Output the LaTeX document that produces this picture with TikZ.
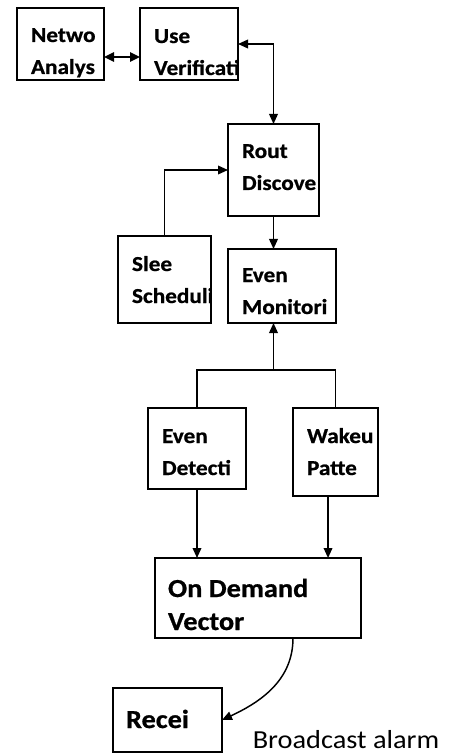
\documentclass[tikz,border=0pt]{standalone}
\usepackage{fontspec}
\setmainfont{Carlito}[FakeStretch=1.09, BoldFeatures={FakeBold=0.8}]
\usetikzlibrary{arrows.meta}
\tikzset{
  blk/.style 2 args={draw, line width=1.5pt, inner sep=0pt, outer sep=0pt,
    minimum width=#1*0.75pt, minimum height=#2*0.75pt},
  % #1 = drop of the last baseline below the top edge (px)
  txt/.style 2 args={path picture={\node[draw=none, minimum width=0pt, minimum height=0pt,
      anchor=base west, inner sep=0pt, align=left,
      font=\bfseries\fontsize{16}{24}\selectfont]
      at ([xshift=10.5pt,yshift=-#1*0.75pt]path picture bounding box.north west) {#2};}},
  bigtxt/.style 2 args={path picture={\node[draw=none, minimum width=0pt, minimum height=0pt,
      anchor=base west, inner sep=0pt, align=left,
      font=\bfseries\fontsize{19.5}{24.75}\selectfont]
      at ([xshift=9.75pt,yshift=-#1*0.75pt]path picture bounding box.north west) {#2};}},
  tip/.style={line width=1.1pt, -{Triangle[length=7.5pt,width=6.5pt]}},
}
\begin{document}
\begin{tikzpicture}[x=0.75pt,y=-0.75pt]
  \useasboundingbox (0,0) rectangle (454,755);
  % blocks
  \node[blk={87}{72}, txt={66}{Netwo\\Analys}] (net) at (60.5,44) {};
  \node[blk={98}{72}, txt={67}{Use\\Verificati}] (usr) at (189,44) {};
  \node[blk={91}{92}, txt={66}{Rout\\Discove}] (rout) at (273.5,170) {};
  \node[blk={93}{87}, txt={67}{Slee\\Scheduli}] (slee) at (164.5,279.5) {};
  \node[blk={108}{74}, txt={65}{Even\\Monitori}] (mon) at (282,286) {};
  \node[blk={98}{81}, txt={67}{Even\\Detecti}] (det) at (197,448.5) {};
  \node[blk={85}{88}, txt={67}{Wakeu\\Patte}] (wak) at (335.5,452) {};
  \node[blk={206}{80}, bigtxt={72}{On Demand\\Vector}] (odv) at (258,598) {};
  \node[blk={109}{64}, bigtxt={40}{Recei}] (rec) at (167.5,720) {};
  \node[font=\fontsize{19.5}{22}\selectfont, inner sep=0pt] (bca) at (346,740) {Broadcast alarm};
  % connectors
  \draw[line width=1.6pt, {Triangle[length=7.5pt,width=7pt]}-{Triangle[length=7.5pt,width=7pt]}]
    ([yshift=-9.75pt]net.east) -- ([yshift=-9.75pt]usr.west);
  \draw[tip, {Triangle[length=7.5pt,width=6.5pt]}-{Triangle[length=7.5pt,width=6.5pt]}]
    (usr.east) -| (rout.north);
  \draw[tip] (slee.north) |- (rout.west);
  \draw[tip] (rout.south) -- (rout.south |- mon.north);
  \coordinate (jn) at (273.5,370);
  \draw[line width=1.1pt] (det.north) |- (jn) -| (wak.north);
  \draw[tip] (jn) -- (jn |- mon.south);
  \draw[tip] (det.south) -- (det.south |- odv.north);
  \coordinate (wk) at ([xshift=-5.6pt]wak.south);
  \draw[tip] (wk) -- (wk |- odv.north);
  \coordinate (ob) at ([xshift=26.25pt]odv.south);
  \draw[tip] (ob) to[out=-90, in=25] (rec.east);
\end{tikzpicture}
\end{document}
